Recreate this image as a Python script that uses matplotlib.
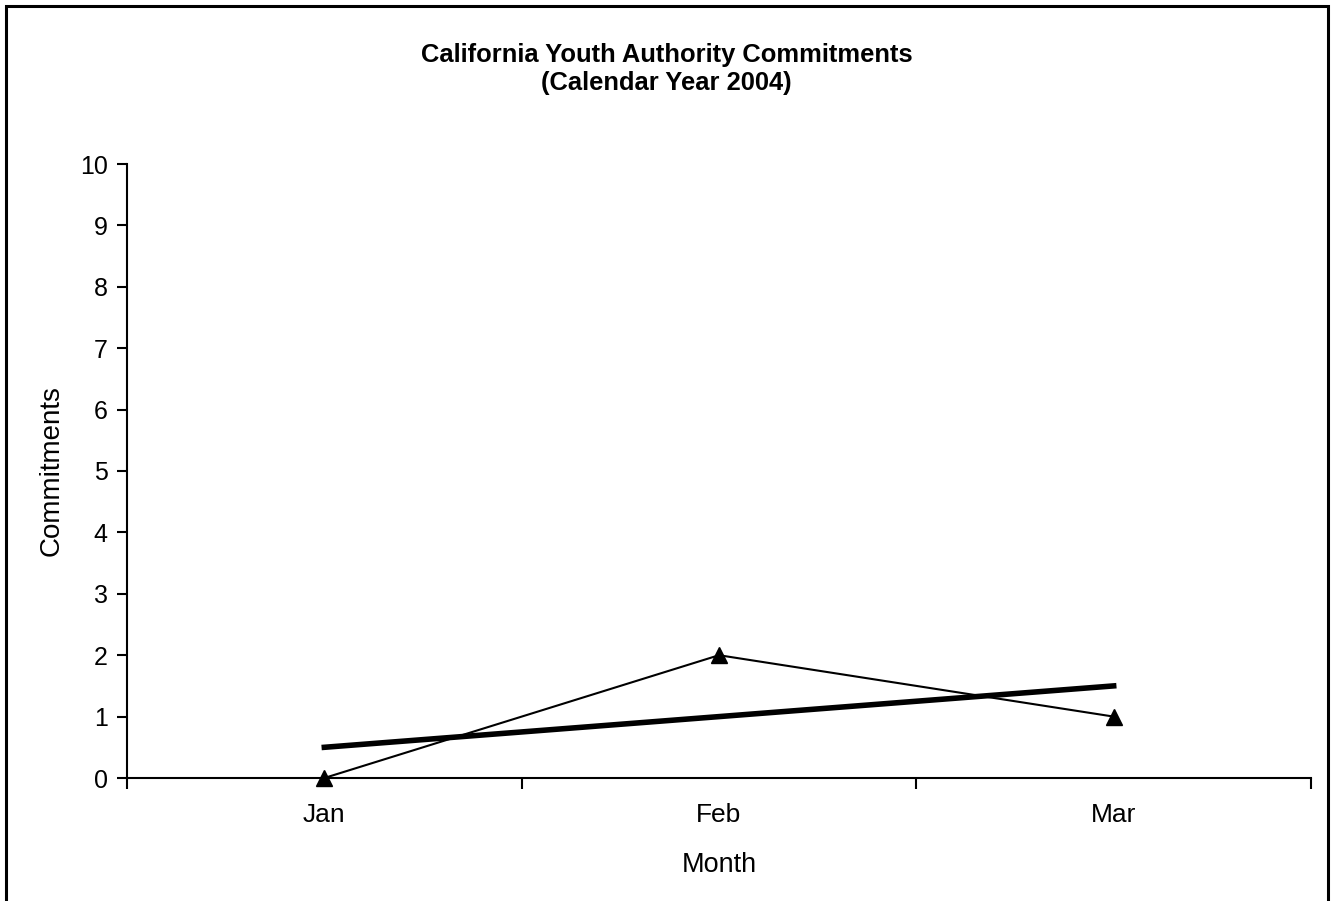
import matplotlib
matplotlib.use("Agg")
import matplotlib.pyplot as plt
import numpy as np
from matplotlib.patches import Rectangle

months = ["Jan", "Feb", "Mar"]
commitments = [0, 2, 1]

plt.rcParams['font.family'] = ['Liberation Sans', 'DejaVu Sans']

fig = plt.figure(figsize=(13.33, 9.01), dpi=100)
ax = fig.add_axes([127/1333, 1-778/901, (1311-127)/1333, (778-164)/901])

x = np.arange(len(months))
ax.plot(x, commitments, color='black', lw=1.5, marker='^', markersize=12,
        zorder=3, clip_on=False)

# linear trendline
slope, intercept = np.polyfit(x, commitments, 1)
ax.plot(x, slope*x + intercept, color='black', lw=4, zorder=2)

ax.set_xlim(-0.5, len(months)-0.5)
ax.set_ylim(0, 10)
ax.set_yticks(range(0, 11))
ax.set_xticks(x)
ax.set_xticklabels(months)
ax.tick_params(axis='x', length=0, labelsize=19, pad=18)
ax.set_xticks(np.arange(-0.5, len(months), 1.0), minor=True)
ax.tick_params(axis='x', which='minor', length=8, width=1.5, color='black')
ax.tick_params(axis='y', length=7, width=1.5, labelsize=18, pad=7)

for s in ['top', 'right']:
    ax.spines[s].set_visible(False)
for s in ['left', 'bottom']:
    ax.spines[s].set_linewidth(1.5)

ax.set_xlabel("Month", fontsize=19.5, labelpad=18)
ax.set_ylabel("Commitments", fontsize=20, labelpad=11)

fig.text(0.5, 1-69/901, "California Youth Authority Commitments\n(Calendar Year 2004)",
         ha='center', va='center', fontsize=18.4, fontweight='bold', linespacing=1.2)

fig.patches.append(Rectangle((6/1333, -0.05), (1328-6)/1333, 1.05-6/901,
                             transform=fig.transFigure, fill=False,
                             edgecolor='black', lw=2.2))

fig.savefig("out.png", dpi=100)
